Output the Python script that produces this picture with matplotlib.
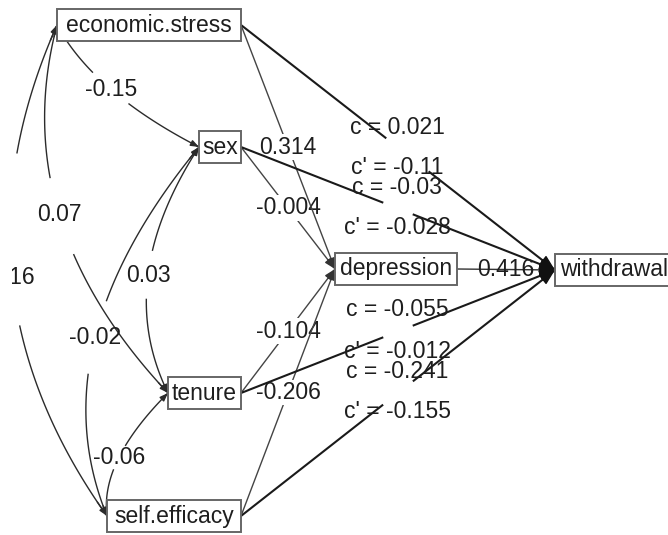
"""path diagram: covariates -> depression -> withdrawal"""

import matplotlib
matplotlib.use("Agg")
import matplotlib.pyplot as plt
import numpy as np
from matplotlib.patches import Rectangle

plt.rcParams['font.family'] = ['Liberation Sans', 'DejaVu Sans']

# values
cov_pairs = [("economic.stress", "sex"), ("economic.stress", "tenure"),
             ("economic.stress", "self.efficacy"), ("sex", "tenure"),
             ("sex", "self.efficacy"), ("tenure", "self.efficacy")]
cov_values = ["-0.15", "0.07", "0.16", "0.03", "-0.02", "-0.06"]

a_sources = ["sex", "tenure", "self.efficacy", "economic.stress"]
a_values = ["-0.004", "-0.104", "-0.206", "0.314"]
b_value = "0.416"

direct_sources = ["economic.stress", "sex", "tenure", "self.efficacy"]
c_values = ["0.021", "-0.03", "-0.055", "-0.241"]
c_prime_values = ["-0.11", "-0.028", "-0.012", "-0.155"]

# layout (pixels): left, right, y centre
boxes = {
    "economic.stress": (57, 241, 25),
    "sex": (199, 241, 147),
    "tenure": (168, 241, 393),
    "self.efficacy": (107, 241, 516),
    "depression": (335, 457, 269),
    "withdrawal": (555, 673, 270),
}
box_h = 32
cov_ctrl = [(94, 93), (5.5, 220), (-58, 284), (112.5, 280), (37, 344), (100, 461)]
cov_gap = [(0.36, 0.62), (0.4, 0.61), (0.25, 0.6), (0.4, 0.6), (0.4, 0.6), (0.4, 0.6)]
cov_label_dx = [0, 0, 0, 0, 0, 0]
direct_gap = [(0.46, 0.6), (0.45, 0.55), (0.45, 0.55), (0.45, 0.55)]
c_label_y = [128, 188, 310, 372]
cp_label_y = [168, 228, 351, 412]
FS = 16.5
TXT = "#1e1e1e"

fig = plt.figure(figsize=(6.68, 5.35), dpi=100)
ax = fig.add_axes([0, 0, 1, 1])
ax.set_xlim(0, 668)
ax.set_ylim(535, 0)
ax.axis("off")

# the reference is cropped on the left: nothing shows left of x = 12
crop = Rectangle((12, -50), 800, 700, transform=ax.transData)


def left_pt(name):
    l, r, y = boxes[name]
    return np.array([l, y], float)


def right_pt(name):
    l, r, y = boxes[name]
    return np.array([r, y], float)


def bez(p0, c, p2, t):
    t = np.atleast_1d(t)[:, None]
    return (1 - t) ** 2 * p0 + 2 * t * (1 - t) * np.array(c) + t ** 2 * p2


def head(tip, back, z, color, scale=9, lw=1.0):
    ax.annotate("", xy=tip, xytext=back, zorder=z,
                arrowprops=dict(arrowstyle="-|>,head_length=0.8,head_width=0.3",
                                mutation_scale=scale, color=color, lw=lw,
                                shrinkA=0, shrinkB=0))


# covariance arcs
for (a, b), val, c, (g0, g1), dx in zip(cov_pairs, cov_values, cov_ctrl, cov_gap, cov_label_dx):
    p0, p2 = left_pt(a), left_pt(b)
    for t in (np.linspace(0, g0, 40), np.linspace(g1, 1, 40)):
        pts = bez(p0, c, p2, t)
        ax.plot(pts[:, 0], pts[:, 1], color="#2b2b2b", lw=1.0, zorder=1)
    head(p0, bez(p0, c, p2, 0.03)[0], 1, "#2b2b2b", scale=6)
    head(p2, bez(p0, c, p2, 0.97)[0], 1, "#2b2b2b", scale=6)
    lx, ly = bez(p0, c, p2, 0.5)[0]
    t = ax.text(lx + dx, ly, val, fontsize=FS, color=TXT, ha="center", va="center", zorder=2)
    t.set_clip_on(True)
    t.set_clip_path(crop)

# a paths to depression
for i, (src, val) in enumerate(zip(a_sources, a_values)):
    z = 3 + i * 0.1
    p0, p1 = right_pt(src), left_pt("depression")
    ax.plot([p0[0], p1[0]], [p0[1], p1[1]], color="#444444", lw=1.0, zorder=z)
    head(p1, p1 + (p0 - p1) / np.linalg.norm(p0 - p1) * 8, z, "#333333", scale=8)
    m = (p0 + p1) / 2
    ax.text(m[0], m[1], val, fontsize=FS, color=TXT, ha="center", va="center", zorder=z + 0.05,
            bbox=dict(boxstyle="square,pad=0.05", fc="white", ec="none"))

# direct effects to withdrawal
target = left_pt("withdrawal")
for i, src in enumerate(direct_sources):
    p0 = right_pt(src)
    g0, g1 = direct_gap[i]
    for s, e in ((0, g0), (g1, 1)):
        q0 = p0 + (target - p0) * s
        q1 = p0 + (target - p0) * e
        ax.plot([q0[0], q1[0]], [q0[1], q1[1]], color="#1a1a1a", lw=1.5, zorder=4)
    head(target, target + (p0 - target) / np.linalg.norm(p0 - target) * 10, 4, "#111111", scale=12)
    ax.text(397, c_label_y[i], "c = " + c_values[i], fontsize=FS, color=TXT,
            ha="center", va="center", zorder=4.5)
    ax.text(397, cp_label_y[i], "c' = " + c_prime_values[i], fontsize=FS, color=TXT,
            ha="center", va="center", zorder=4.5)

# b path
p0 = right_pt("depression")
ax.plot([p0[0], target[0]], [p0[1], target[1]], color="#333333", lw=1.0, zorder=4)
head(target, target + np.array([-10, 0]), 4, "#111111", scale=12)
ax.text((p0[0] + target[0]) / 2, (p0[1] + target[1]) / 2, b_value, fontsize=FS,
        color=TXT, ha="center", va="center", zorder=4.5)

# boxes
for name, (l, r, y) in boxes.items():
    ax.add_patch(Rectangle((l, y - box_h / 2), r - l, box_h, fc="white",
                           ec="#666666", lw=1.4, zorder=5))
    ax.text((l + r) / 2, y, name, fontsize=FS, color=TXT, ha="center",
            va="center", zorder=6)

fig.savefig("out.png", dpi=100)
